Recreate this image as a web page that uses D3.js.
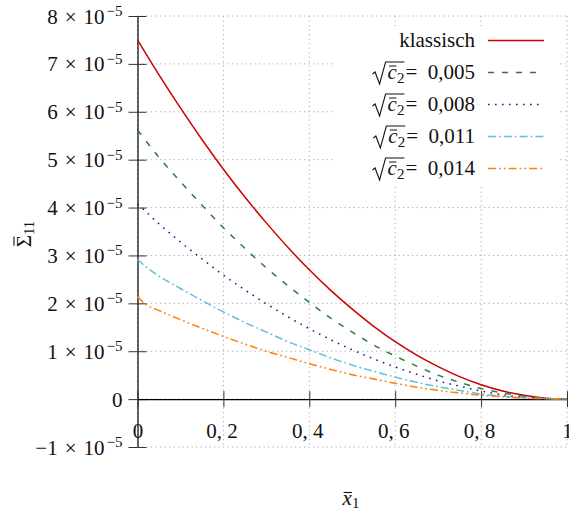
<!DOCTYPE html>
<meta charset="utf-8">
<style>
body { margin: 0; background: #fff; }
svg text { font-family: "Liberation Serif", "Times New Roman", "DejaVu Serif", serif; }
.grid line { stroke: #a8a8a8; stroke-width: 1; stroke-dasharray: 1.2,3.3; }
.curve { fill: none; stroke-width: 1.5; }
</style>
<body>
<svg width="569" height="515"></svg>
<script src="https://d3js.org/d3.v7.min.js"></script>
<script>

// x positions of the read points
var xVals = [0, 0.05, 0.1, 0.15, 0.2, 0.25, 0.3, 0.35, 0.4, 0.45, 0.5, 0.55, 0.6, 0.65, 0.7, 0.75, 0.8, 0.85, 0.9, 0.95, 1];
var xValsFine = [0, 0.02, 0.05, 0.1, 0.15, 0.2, 0.25, 0.3, 0.35, 0.4, 0.45, 0.5, 0.55, 0.6, 0.65, 0.7, 0.75, 0.8, 0.85, 0.9, 0.95, 1];

// values in units of 1e-5
var klassisch = [7.5, 6.77, 6.08, 5.42, 4.8, 4.22, 3.68, 3.17, 2.7, 2.27, 1.88, 1.52, 1.2, 0.92, 0.68, 0.47, 0.3, 0.17, 0.08, 0.02, 0];
var c005 = [5.62, 5.05, 4.54, 4.05, 3.58, 3.15, 2.74, 2.37, 2.02, 1.69, 1.4, 1.13, 0.9, 0.69, 0.5, 0.35, 0.22, 0.13, 0.06, 0.01, 0];
var c008 = [4.08, 3.66, 3.28, 2.93, 2.59, 2.28, 1.99, 1.72, 1.47, 1.24, 1.03, 0.84, 0.67, 0.52, 0.38, 0.27, 0.17, 0.09, 0.04, 0.01, 0];
var c011 = [2.92, 2.76, 2.57, 2.31, 2.06, 1.82, 1.6, 1.4, 1.2, 1.03, 0.86, 0.71, 0.58, 0.46, 0.35, 0.26, 0.18, 0.11, 0.06, 0.03, 0.01, 0];
var c014 = [2.14, 1.97, 1.85, 1.66, 1.48, 1.31, 1.15, 1.0, 0.87, 0.74, 0.62, 0.51, 0.42, 0.33, 0.25, 0.18, 0.13, 0.08, 0.05, 0.02, 0.01, 0];

var legendValues = ["0,005", "0,008", "0,011", "0,014"];

var yTicks = [-1, 0, 1, 2, 3, 4, 5, 6, 7, 8];
var xTicks = [0, 0.2, 0.4, 0.6, 0.8, 1];
var xTickLabels = ["0", "0, 2", "0, 4", "0, 6", "0, 8", "1"];

var series = [
  { label: "klassisch", xs: xVals, ys: klassisch, color: "#cc0000", dash: null },
  { label: legendValues[0], xs: xVals, ys: c005, color: "#2e7a46", dash: "6,8" },
  { label: legendValues[1], xs: xVals, ys: c008, color: "#1c1c8f", dash: "1.6,5.4" },
  { label: legendValues[2], xs: xValsFine, ys: c011, color: "#5ec1d9", dash: "8,3,1.8,3" },
  { label: legendValues[3], xs: xValsFine, ys: c014, color: "#ff7f0e", dash: "8,3,1.8,3,1.8,3" }
];

var serif = "Liberation Serif, Times New Roman, DejaVu Serif, serif";

var svg = d3.select("svg");

var x = d3.scaleLinear().domain([0, 1]).range([137.5, 567]);
var y = d3.scaleLinear().domain([-1, 8]).range([447, 16]);

// grid
var grid = svg.append("g").attr("class", "grid");
grid.selectAll(".gx").data(xTicks).enter().append("line")
    .attr("x1", function(d) { return x(d); })
    .attr("x2", function(d) { return x(d); })
    .attr("y1", y(8)).attr("y2", y(-1));
grid.selectAll(".gy").data(yTicks).enter().append("line")
    .attr("y1", function(d) { return y(d); })
    .attr("y2", function(d) { return y(d); })
    .attr("x1", x(0)).attr("x2", x(1));

// y axis
var yAxis = svg.append("g")
    .attr("transform", "translate(" + x(0) + ",0)")
    .call(d3.axisLeft(y).tickValues(yTicks).tickSize(9).tickSizeOuter(0).tickPadding(15));
yAxis.attr("font-family", serif);
yAxis.select(".domain").attr("stroke", "#000").attr("stroke-width", 1.2);
yAxis.selectAll(".tick line").attr("x2", -9).attr("x1", 9).attr("stroke", "#333");
yAxis.selectAll(".tick text")
    .attr("font-size", 21).attr("fill", "#111")
    .attr("dy", 7).attr("x", -15)
    .each(function(d) {
      var t = d3.select(this).text(null);
      if (d === 0) { t.text("0"); return; }
      t.append("tspan").text(d < 0 ? "\u2212" + (-d) : d);
      t.append("tspan").attr("dx", 7).text("\u00d7");
      t.append("tspan").attr("dx", 7).text("10");
      t.append("tspan").attr("dx", 2).attr("dy", -7.5).attr("font-size", 15).text("\u22125");
    });

// x axis
var xAxis = svg.append("g")
    .attr("transform", "translate(0," + y(0) + ")")
    .call(d3.axisBottom(x).tickValues(xTicks).tickSize(8).tickSizeOuter(0).tickPadding(16)
      .tickFormat(function(d, i) { return xTickLabels[i]; }));
xAxis.attr("font-family", serif);
xAxis.select(".domain").attr("stroke", "#000").attr("stroke-width", 1.2);
xAxis.selectAll(".tick line").attr("y1", -8).attr("y2", 8).attr("stroke", "#333");
xAxis.selectAll(".tick text")
    .attr("font-size", 21).attr("fill", "#111")
    .attr("dx", function(d, i) { return xTickLabels[i].length > 1 ? -2 : 0; });

// curves
var line = d3.line().curve(d3.curveMonotoneX);
svg.selectAll(".curve").data(series).enter().append("path")
    .attr("class", "curve")
    .attr("stroke", function(d) { return d.color; })
    .attr("stroke-dasharray", function(d) { return d.dash; })
    .attr("d", function(d) {
      return line(d.xs.map(function(v, i) { return [x(v), y(d.ys[i])]; }));
    });

// axis titles
var yTitle = svg.append("g").attr("transform", "translate(31,234) rotate(-90)");
var yt = yTitle.append("text").attr("text-anchor", "middle").attr("font-size", 21).attr("fill", "#111");
yt.append("tspan").text("\u03a3");
yt.append("tspan").attr("dy", 3).attr("font-size", 15).text("11");
var ye = yt.node().getExtentOfChar(0);
yTitle.append("line")
    .attr("x1", ye.x + 1.5).attr("x2", ye.x + ye.width - 1.5)
    .attr("y1", -17).attr("y2", -17)
    .attr("stroke", "#111").attr("stroke-width", 1.1);

var xTitle = svg.append("g").attr("transform", "translate(351,505)");
var xt = xTitle.append("text").attr("text-anchor", "middle").attr("font-size", 21).attr("fill", "#111");
xt.append("tspan").attr("font-style", "italic").text("x");
xt.append("tspan").attr("dy", 3).attr("font-size", 15).text("1");
var xe = xt.node().getExtentOfChar(0);
xTitle.append("line")
    .attr("x1", xe.x + 1).attr("x2", xe.x + xe.width)
    .attr("y1", -12.5).attr("y2", -12.5)
    .attr("stroke", "#111").attr("stroke-width", 1.1);

// legend
var legend = svg.append("g");
legend.append("rect")
    .attr("x", 333).attr("y", 26).attr("width", 227).attr("height", 160)
    .attr("fill", "#fff");

series.forEach(function(s, i) {
  var cy = 40.5 + 32 * i, by = cy + 6.5;
  var row = legend.append("g");
  row.append("line")
      .attr("x1", 488).attr("x2", 544).attr("y1", cy).attr("y2", cy)
      .attr("stroke", s.color).attr("stroke-width", 1.5)
      .attr("stroke-dasharray", s.dash);
  if (i === 0) {
    row.append("text").attr("x", 475).attr("y", by).attr("text-anchor", "end")
        .attr("font-size", 21).attr("fill", "#111").text(s.label);
    return;
  }
  var rest = row.append("text").attr("x", 475).attr("y", by).attr("text-anchor", "end")
      .attr("font-size", 21).attr("fill", "#111").text("=\u2002" + s.label);
  var x1 = 475 - rest.node().getComputedTextLength();
  var sub = row.append("text").attr("x", x1 - 1).attr("y", by + 4).attr("text-anchor", "end")
      .attr("font-size", 15).attr("fill", "#111").text("2");
  var x2 = x1 - 1 - sub.node().getComputedTextLength();
  var c = row.append("text").attr("x", x2).attr("y", by).attr("text-anchor", "end")
      .attr("font-size", 21).attr("font-style", "italic").attr("fill", "#111").text("c");
  var x3 = x2 - c.node().getComputedTextLength();
  row.append("line")
      .attr("x1", x3 + 1.5).attr("x2", x2 - 0.5).attr("y1", by - 13).attr("y2", by - 13)
      .attr("stroke", "#111").attr("stroke-width", 1);
  row.append("path")
      .attr("d", "M" + (x3 - 15) + "," + (by - 5) + "L" + (x3 - 12.5) + "," + (by - 7)
        + "L" + (x3 - 8) + "," + (by + 5) + "L" + (x3 - 2) + "," + (by - 17)
        + "H" + (x1 - 1))
      .attr("fill", "none").attr("stroke", "#111").attr("stroke-width", 1.1);
});

</script>
</body>
